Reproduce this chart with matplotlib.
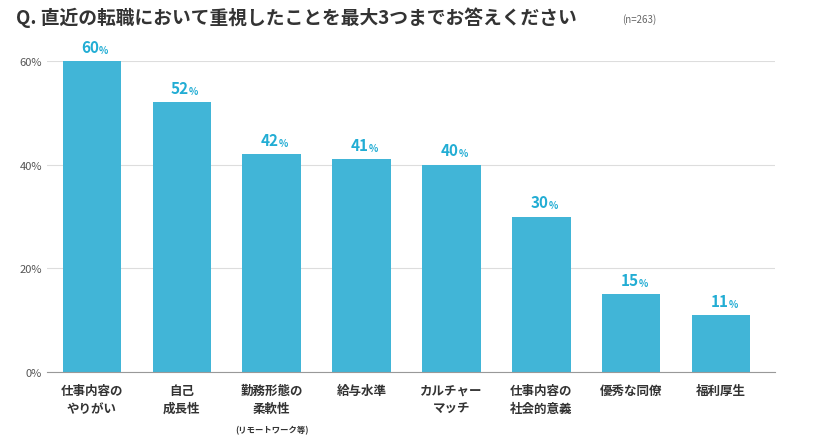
import matplotlib
matplotlib.use("Agg")
import matplotlib.pyplot as plt

plt.rcParams['font.family'] = ['Noto Sans CJK JP', 'DejaVu Sans']

categories = ["仕事内容の\nやりがい", "自己\n成長性", "勤務形態の\n柔軟性", "給与水準",
              "カルチャー\nマッチ", "仕事内容の\n社会的意義", "優秀な同僚", "福利厚生"]
values = [60, 52, 42, 41, 40, 30, 15, 11]
yticks = [0, 20, 40, 60]

BAR = "#41b5d7"
LBL = "#22add4"
TXT = "#333333"

fig = plt.figure(figsize=(8.19, 4.39), dpi=100)
ax = fig.add_axes([47 / 819, 66 / 439, 728 / 819, 311 / 439])
x = list(range(len(values)))
ax.bar(x, values, width=0.65, color=BAR, zorder=2)
ax.set_xlim(-0.5, 7.6)
ax.set_ylim(0, 60)
ax.set_yticks(yticks)
ax.set_yticklabels([f"{v}%" for v in yticks], fontsize=8, color="#555555")
ax.grid(axis="y", color="#dddddd", lw=0.8, zorder=0)
ax.tick_params(length=0)
for s in ax.spines.values():
    s.set_visible(False)
ax.spines["bottom"].set_visible(True)
ax.spines["bottom"].set_color("#999999")
ax.set_xticks([])

for xi, v, c in zip(x, values, categories):
    ax.text(xi + 0.08, v + 1.2, str(v), ha="right", va="bottom", fontsize=11,
            fontweight="bold", color=LBL, clip_on=False)
    ax.text(xi + 0.08, v + 1.2, "%", ha="left", va="bottom", fontsize=7,
            fontweight="bold", color=LBL, clip_on=False)
    ax.text(xi, -2.3, c, ha="center", va="top", fontsize=9, fontweight="bold",
            color=TXT, linespacing=1.5, clip_on=False)
ax.text(2, -10.3, "(リモートワーク等)", ha="center", va="top", fontsize=6,
        fontweight="bold", color=TXT, clip_on=False)

fig.text(16 / 819, 1 - 18 / 439, "Q. 直近の転職において重視したことを最大3つまでお答えください",
         fontsize=13.5, fontweight="bold", color=TXT, va="center")
fig.text(622 / 819, 1 - 20 / 439, "(n=263)", fontsize=7, color="#666666", va="center")

fig.savefig("out.png", dpi=100, facecolor="white")
